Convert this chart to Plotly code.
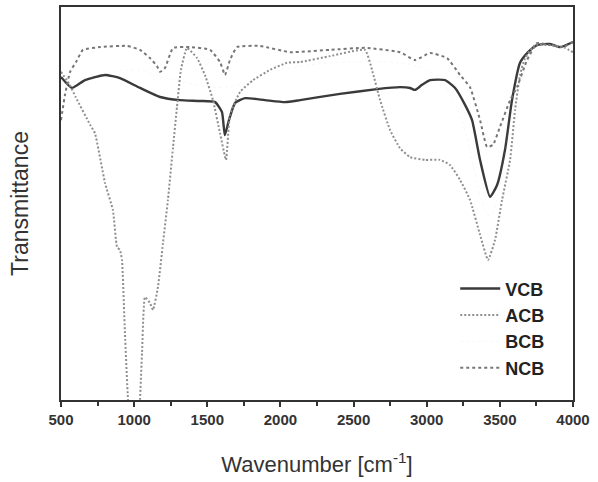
import plotly.graph_objects as go

# Wavenumber (cm^-1) and transmittance (arbitrary %)
vcb_x = [500, 575, 664, 801, 903, 1040, 1177, 1313, 1450, 1553, 1600, 1620, 1648, 1690, 1758,
         1895, 2031, 2134, 2407, 2660, 2817, 2886, 2920, 2968, 3023, 3125, 3194, 3262, 3310,
         3365, 3433, 3481, 3535, 3583, 3638, 3693, 3754, 3843, 3911, 4000]
vcb_y = [82.2, 79.4, 81.4, 82.7, 81.9, 79.4, 77.1, 76.3, 76.1, 75.8, 73.3, 67.4, 71.2, 75.6, 76.8,
         76.3, 75.8, 76.3, 77.9, 79.1, 79.6, 79.4, 78.9, 80.2, 81.4, 81.4, 79.4, 75.1, 71.2,
         61.0, 51.7, 54.7, 63.6, 76.3, 85.8, 88.5, 90.3, 90.6, 89.8, 91.1]

acb_x = [500, 560, 600, 700, 732, 801, 855, 883, 903, 917, 937, 958, 985, 1015, 1040, 1054,
         1074, 1108, 1129, 1163, 1197, 1231, 1266, 1293, 1320, 1361, 1430, 1484, 1539, 1587,
         1628, 1655, 1724, 1813, 1929, 2045, 2134, 2339, 2578, 2626, 2681, 2749, 2817, 2886,
         2988, 3091, 3159, 3228, 3296, 3365, 3419, 3467, 3515, 3570, 3604, 3638, 3672, 3740,
         3843, 3945, 4000]
acb_y = [83.5, 80.2, 77.1, 70.0, 67.9, 55.2, 48.3, 38.9, 38.2, 35.6, 17.0, 0.0, -15.0, -15.0,
         0.0, 12.0, 26.2, 24.7, 22.9, 28.8, 39.9, 50.9, 64.4, 74.6, 84.0, 89.6, 87.0, 82.7,
         76.3, 67.9, 61.1, 72.5, 78.4, 81.4, 84.0, 85.8, 86.0, 87.5, 89.1, 84.0, 76.3, 68.7,
         64.1, 61.8, 61.1, 61.1, 59.8, 56.0, 50.9, 42.0, 35.6, 40.7, 50.9, 61.1, 73.8, 82.7,
         87.0, 90.3, 90.3, 89.6, 88.5]

bcb_x = [500, 1000, 1200, 1630, 2000, 2500, 3000, 3200, 3430, 3600, 3750, 4000]
bcb_y = [80.0, 84.0, 82.0, 79.6, 84.0, 86.0, 84.0, 75.0, 47.0, 75.0, 89.0, 90.0]

ncb_x = [500, 527, 562, 603, 650, 767, 951, 1040, 1108, 1156, 1177, 1211, 1266, 1382, 1519,
         1587, 1621, 1655, 1703, 1860, 2065, 2339, 2578, 2817, 2920, 3023, 3139, 3228, 3296,
         3365, 3412, 3453, 3501, 3570, 3617, 3686, 3754, 3843, 3932, 4000]
ncb_y = [71.2, 77.6, 83.5, 86.0, 89.1, 89.8, 90.1, 89.1, 87.0, 85.0, 83.5, 84.5, 89.6, 89.8,
         89.1, 86.0, 82.7, 86.5, 89.8, 90.1, 88.5, 89.1, 89.6, 88.5, 86.5, 88.3, 87.0, 82.7,
         79.6, 71.2, 64.4, 64.9, 69.5, 76.3, 79.6, 86.5, 90.8, 90.3, 89.8, 91.1]

x_ticks = [500, 1000, 1500, 2000, 2500, 3000, 3500, 4000]

fig = go.Figure()
fig.add_trace(go.Scatter(x=vcb_x, y=vcb_y, name="VCB", mode="lines",
                         line=dict(color="#3a3a3a", width=2.4, shape="spline", smoothing=0.5)))
fig.add_trace(go.Scatter(x=acb_x, y=acb_y, name="ACB", mode="lines",
                         line=dict(color="#8f8f8f", width=2, dash="2px,2px", shape="spline", smoothing=0.4)))
fig.add_trace(go.Scatter(x=bcb_x, y=bcb_y, name="BCB", mode="lines",
                         line=dict(color="rgba(200,200,200,0.15)", width=1, dash="dot", shape="spline")))
fig.add_trace(go.Scatter(x=ncb_x, y=ncb_y, name="NCB", mode="lines",
                         line=dict(color="#767676", width=2, dash="3px,3px", shape="spline", smoothing=0.4)))

fig.update_layout(
    width=598, height=482,
    margin=dict(l=61, r=25, t=7, b=82),
    paper_bgcolor="white", plot_bgcolor="white",
    font=dict(family="Arial, Liberation Sans, sans-serif", color="#333333"),
    showlegend=True,
    legend=dict(x=0.77, y=0.33, xanchor="left", yanchor="top",
                bgcolor="rgba(0,0,0,0)",
                font=dict(size=18, color="#222222", weight="bold",
                          family="Arial, Liberation Sans, sans-serif"),
                tracegroupgap=0, itemwidth=40),
)
fig.update_xaxes(
    range=[500, 4000], tickvals=x_ticks, ticktext=[str(v) for v in x_ticks],
    ticks="outside", ticklen=5, tickwidth=1.5, tickcolor="#333333",
    minor=dict(dtick=250, ticks="outside", ticklen=4, tickwidth=1.5, tickcolor="#333333", showgrid=False),
    showline=True, linecolor="#333333", linewidth=2, mirror=True,
    showgrid=False, zeroline=False, automargin=False,
    tickfont=dict(size=15, color="#333333", weight="bold"),
    title=dict(text="Wavenumber [cm<sup>-1</sup>]", font=dict(size=22, color="#333333"), standoff=30),
)
fig.update_yaxes(
    range=[0, 100], showticklabels=False, ticks="",
    showline=True, linecolor="#333333", linewidth=2, mirror=True,
    showgrid=False, zeroline=False, automargin=False,
    title=dict(text="Transmittance", font=dict(size=23, color="#333333"), standoff=24),
)

fig.write_html("out.html")
